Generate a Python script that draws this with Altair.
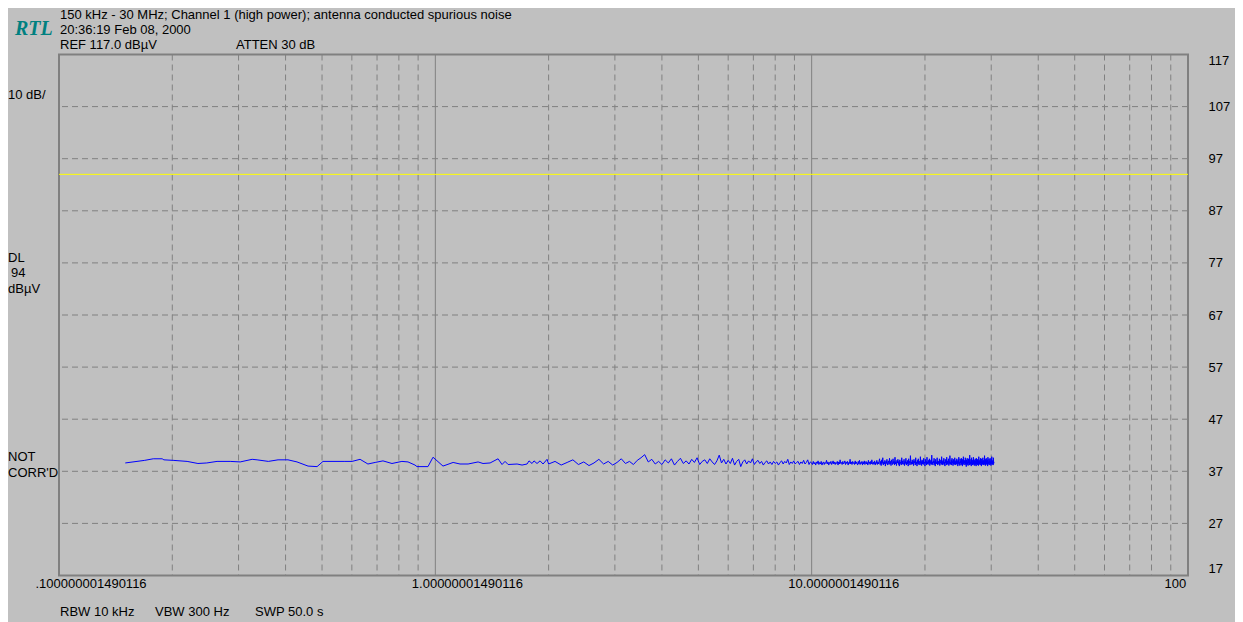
import altair as alt
import pandas as pd

FONT = "Liberation Sans"
GRID_COLOR = "#808080"
BG = "#C0C0C0"

# ---- data ----
# explicit trace vertices below 2 MHz (MHz, dBuV)
LOW_FREQ = [0.150, 0.169, 0.178, 0.188, 0.190, 0.201, 0.219, 0.234, 0.247, 0.263,
            0.285, 0.303, 0.326, 0.336, 0.360, 0.382, 0.406, 0.429, 0.459, 0.485,
            0.503, 0.575, 0.601, 0.631, 0.662, 0.692, 0.726, 0.767, 0.815, 0.846,
            0.883, 0.894, 0.956, 0.986, 1.048, 1.115, 1.163, 1.222, 1.299, 1.339,
            1.398, 1.468, 1.504, 1.532, 1.561, 1.649, 1.700, 1.753, 1.774, 1.807,
            1.829, 1.863, 1.898, 1.933, 1.981]
LOW_DBUV = [38.6, 39.1, 39.4, 39.4, 39.2, 39.1, 38.9, 38.5, 38.6, 38.9,
            38.9, 38.8, 39.3, 39.2, 38.9, 39.2, 39.2, 38.8, 38.0, 37.9,
            38.9, 38.9, 38.9, 39.3, 38.4, 38.7, 39.0, 38.5, 38.9, 38.8,
            38.2, 37.9, 37.9, 39.7, 38.0, 38.7, 38.4, 38.4, 38.8, 38.5,
            38.6, 39.4, 38.3, 38.9, 38.3, 38.4, 38.2, 38.4, 39.0, 38.5,
            39.0, 38.5, 39.0, 38.4, 39.3]

# sweep points 2 - 10 MHz, one every 80 kHz (dBuV)
MID_START_MHZ = 2.0
MID_STEP_MHZ = 0.08
MID_DBUV = [
    38.4, 38.9, 38.2, 38.7, 39.2, 38.3, 38.8, 38.1, 38.6, 39.3, 38.4, 38.9, 38.2,
    38.7, 39.4, 38.5, 38.9, 38.3, 39.1, 39.6, 40.2, 38.8, 39.3, 38.4, 38.9,
    38.3, 39.2, 38.6, 39.4, 38.2, 38.9, 39.5, 38.5, 39.0, 38.4, 39.3, 38.7, 39.6,
    38.3, 38.9, 39.2, 38.5, 39.4, 38.8, 38.3, 39.0, 40.1, 38.6, 39.3, 38.4,
    39.1, 38.5, 39.5, 38.2, 38.9, 39.3, 37.9, 38.8, 39.2, 38.4,
    39.0, 38.6, 39.4, 38.3, 38.8, 39.1, 38.5, 38.9, 38.2, 38.7,
    39.0, 38.4, 38.8, 38.3, 38.9, 38.5, 38.8, 38.2, 38.7, 39.0,
    38.4, 38.9, 38.6, 39.3, 38.3, 38.8, 38.5, 39.0, 38.4, 38.7,
    38.9, 38.3, 38.8, 38.5, 39.1, 38.4, 38.7, 39.2, 38.3, 38.8,
]

# sweep points 10 - 30 MHz, one every 50 kHz (dBuV)
HIGH_START_MHZ = 10.0
HIGH_STEP_MHZ = 0.05
HIGH_DBUV = [
    38.6, 38.3, 38.9, 38.4, 38.7, 38.2, 38.8, 38.5, 39.0, 38.3,
    38.7, 38.4, 38.9, 38.2, 38.6, 38.8, 38.3, 38.7, 38.5, 39.1,
    38.4, 38.8, 38.2, 38.7, 38.5, 38.9, 38.3, 38.6, 39.0, 38.4,
    38.8, 38.3, 38.7, 38.5, 38.9, 38.2, 38.8, 38.4, 39.2, 38.5,
    38.7, 38.3, 38.9, 38.4, 38.6, 39.0, 38.3, 38.8, 38.5, 38.9,
    38.2, 38.7, 38.5, 39.3, 38.4, 38.8, 38.3, 38.9, 38.5, 38.7,
    38.3, 39.0, 38.4, 38.8, 38.5, 38.2, 38.9, 38.4, 39.1, 38.3,
    38.7, 38.5, 38.9, 38.2, 38.8, 38.4, 39.0, 38.3, 38.6, 38.9,
    38.4, 38.7, 38.2, 39.1, 38.5, 38.8, 38.3, 38.9, 38.4, 39.2,
    38.6, 38.3, 38.8, 38.4, 39.0, 38.2, 38.7, 38.5, 39.1, 38.3,
    38.8, 38.4, 38.9,
    39.4, 38.3, 38.9, 38.1, 39.2, 38.5, 39.6, 38.2, 38.8, 38.4,
    39.1, 38.0, 38.9, 38.5, 39.3, 38.2, 38.7, 39.0, 38.3, 39.5,
    38.4, 38.9, 38.1, 39.2, 38.6, 38.3, 39.4, 38.5, 38.9, 38.2,
    39.7, 38.4, 38.8, 38.1, 39.1, 38.6, 39.3, 38.3, 38.9, 38.0,
    39.2, 38.5, 38.8, 38.2, 39.6, 38.4, 39.0, 38.3, 38.7, 39.3,
    38.1, 38.9, 38.5, 39.5, 38.2, 38.8, 38.4, 39.1, 38.0, 39.4,
    38.6, 38.9, 38.2, 40.0, 38.5, 38.8, 38.3, 39.2, 38.4, 39.0,
    38.1, 39.3, 38.6, 38.9, 38.2, 39.6, 38.4, 38.8, 38.0, 39.1,
    38.5, 39.4, 38.3, 38.7, 38.9, 38.2, 39.8, 38.5, 38.9, 38.1,
    39.2, 38.4, 39.0, 38.3, 39.5, 38.6, 38.8, 38.0, 39.3, 38.5,
    38.9, 38.2, 39.7, 38.4, 38.8, 38.3, 39.1, 38.6, 39.4, 38.1,
    38.9, 38.5, 39.2, 38.3, 40.1, 38.4, 38.8, 38.2, 39.0, 38.6,
    39.5, 38.3, 38.9, 38.0, 39.3, 38.5, 38.8, 38.4, 39.6, 38.2,
    39.0, 38.5, 38.9, 38.3, 39.4, 38.1, 38.8, 38.6, 39.2, 38.3,
    39.8, 38.4, 38.9, 38.2, 39.1, 38.5, 39.5, 38.3, 38.8, 38.0,
    39.3, 38.6, 38.9, 38.2, 39.7, 38.4, 39.0, 38.3, 38.8, 39.4,
    38.1, 38.9, 38.5, 40.0, 38.3, 38.8, 38.4, 39.2, 38.2, 39.5,
    38.6, 38.9, 38.1, 39.3, 38.4, 38.8, 38.3, 39.6, 38.5, 38.9,
    38.2, 39.1, 38.4, 39.4, 38.6, 38.9, 38.0, 39.2, 38.5, 39.7,
    38.3, 38.8, 38.1, 39.4, 38.6, 39.0, 38.2, 39.5, 38.4, 38.9,
    38.0, 39.3, 38.5, 39.8, 38.3, 38.8, 38.6, 39.1, 38.2, 39.6,
    38.4, 38.9, 37.9, 39.2, 38.5, 39.5, 38.3, 38.7, 38.1, 39.4,
    38.6, 39.0, 38.2, 40.1, 38.4, 38.8, 38.3, 39.3, 38.0, 39.6,
    38.5, 38.9, 38.2, 39.2, 38.4, 39.7, 38.3, 38.8, 38.1, 39.1,
    38.6, 39.4, 38.3, 38.9, 38.0, 39.5, 38.4, 38.8, 38.2, 39.3,
    38.5, 39.0, 38.1, 39.8, 38.4, 38.9, 38.3, 39.2, 38.6, 39.5,
    38.2, 38.8, 38.0, 39.4, 38.5, 38.9, 38.3, 39.6, 38.4, 39.1,
    38.2, 38.9, 38.5, 40.0, 38.3, 38.8, 38.1, 39.3, 38.6, 39.5,
    38.4, 38.9, 38.2, 39.2, 38.0, 39.7, 38.5, 38.8, 38.3, 39.4,
    38.6, 39.0, 38.2, 39.5, 38.4, 38.9, 38.1, 39.3, 38.5, 39.8,
    38.3, 38.9, 38.4, 39.1, 38.2, 39.6, 38.5, 38.8,
]

MINOR_FREQS = [0.2, 0.3, 0.4, 0.5, 0.6, 0.7, 0.8, 0.9,
               2, 3, 4, 5, 6, 7, 8, 9,
               20, 30, 40, 50, 60, 70, 80, 90]
DECADE_FREQS = [1, 10]
X_LABEL_FREQS = [0.1, 1, 10, 100]
Y_TICKS = [17, 27, 37, 47, 57, 67, 77, 87, 97, 107, 117]
Y_GRID = [27, 37, 47, 57, 67, 77, 87, 97, 107]
DISPLAY_LINE = [94]

mid_freq = [round(MID_START_MHZ + MID_STEP_MHZ * i, 3) for i in range(len(MID_DBUV))]
high_freq = [round(HIGH_START_MHZ + HIGH_STEP_MHZ * i, 3) for i in range(len(HIGH_DBUV))]
trace_df = pd.DataFrame({"f": LOW_FREQ + mid_freq + high_freq,
                         "v": LOW_DBUV + MID_DBUV + HIGH_DBUV})

x_scale = alt.Scale(type="log", domain=[0.1, 100], nice=False)
y_scale = alt.Scale(domain=[17, 117], nice=False, zero=False)

x_label_expr = ("datum.value < 0.5 ? '.100000001490116' : datum.value < 5 ? '1.00000001490116' : "
                "datum.value < 50 ? '10.0000001490116' : '100'")

x_axis = alt.Axis(
    values=X_LABEL_FREQS, labelExpr=x_label_expr, title=None, grid=False,
    ticks=False, domain=False, labelFont=FONT, labelFontSize=13,
    labelColor="black", labelPadding=2, labelBaseline="top",
    labelAlign="left", labelOffset=-24, labelOverlap=False, labelBound=False)
y_axis = alt.Axis(
    orient="right", values=Y_TICKS, title=None, grid=False, ticks=False,
    domain=False, labelFont=FONT, labelFontSize=13, labelColor="black",
    labelPadding=20, labelAlign="left", labelFlush=True, labelOverlap=False)

X = alt.X("f:Q", scale=x_scale, axis=x_axis)
Y = alt.Y("v:Q", scale=y_scale, axis=y_axis)

minor = alt.Chart(pd.DataFrame({"f": MINOR_FREQS})).mark_rule(
    color=GRID_COLOR, strokeDash=[6, 4], strokeWidth=1).encode(x=X)

decade = alt.Chart(pd.DataFrame({"f": DECADE_FREQS})).mark_rule(
    color=GRID_COLOR, strokeWidth=1).encode(x=X)

hgrid = alt.Chart(pd.DataFrame({"v": Y_GRID})).mark_rule(
    color=GRID_COLOR, strokeDash=[6, 4], strokeWidth=1).encode(y=Y)

dline = alt.Chart(pd.DataFrame({"v": DISPLAY_LINE})).mark_rule(
    color="#FFFF00", strokeWidth=1).encode(y=Y)

trace = alt.Chart(trace_df).mark_line(color="#0000FF", strokeWidth=1).encode(x=X, y=Y)

anchor = pd.DataFrame({"a": [0]})


def note(txt, x, y, size=13, font=FONT, color="black", style=None, weight=None):
    kw = dict(text=txt, align="left", baseline="middle", font=font, fontSize=size, color=color)
    if style:
        kw["fontStyle"] = style
    if weight:
        kw["fontWeight"] = weight
    return alt.Chart(anchor).mark_text(**kw).encode(x=alt.value(x), y=alt.value(y))


notes = [
    note("150 kHz - 30 MHz; Channel 1 (high power); antenna conducted spurious noise", 1, -40),
    note("20:36:19 Feb 08, 2000", 1, -24.5),
    note("REF 117.0 dBµV", 1, -9.5),
    note("ATTEN 30 dB", 177, -9.5),
    note("RTL", -44, -26, size=20, font="Liberation Serif", color="#008080", style="italic", weight="bold"),
    note("10 dB/", -51, 40),
    note("DL", -51, 203.5),
    note("94", -48, 218.5),
    note("dBµV", -51, 234.5),
    note("NOT", -51, 402.5),
    note("CORR'D", -51, 418.5),
    note("RBW 10 kHz", 1, 557),
    note("VBW 300 Hz", 96, 557),
    note("SWP 50.0 s", 196, 557),
]

chart = alt.layer(minor, decade, hgrid, dline, trace, *notes).properties(
    width=1129, height=521,
    padding={"left": 51, "top": 46.5, "right": 47, "bottom": 46},
    autosize=alt.AutoSizeParams(type="none"),
    background=BG,
).configure_view(stroke="#808080", strokeWidth=2)

chart.save("out.html", embed_options={"renderer": "svg", "actions": False})
